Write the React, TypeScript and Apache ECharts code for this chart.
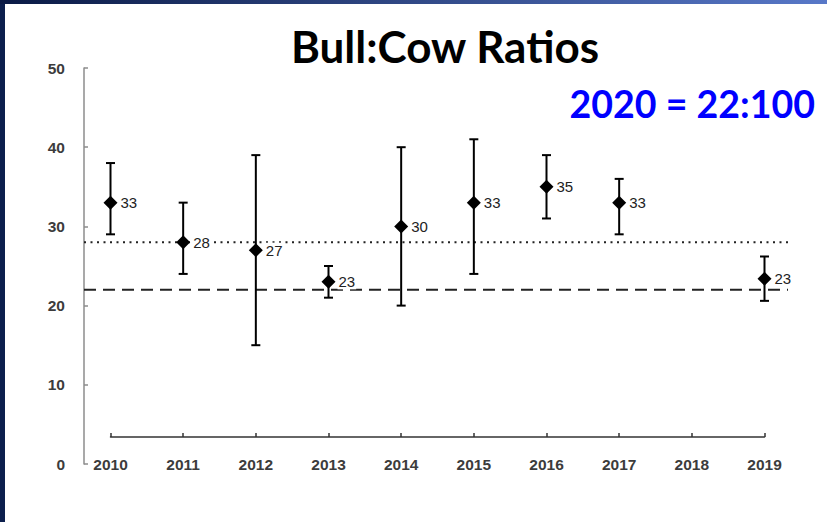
import React, { useEffect, useRef } from "react";
import * as echarts from "echarts";

const years = ["2010", "2011", "2012", "2013", "2014", "2015", "2016", "2017", "2018", "2019"];
const ratios: (number | null)[] = [33, 28, 27, 23, 30, 33, 35, 33, null, 23.4];
const lows: (number | null)[] = [29, 24, 15, 21, 20, 24, 31, 29, null, 20.6];
const highs: (number | null)[] = [38, 33, 39, 25, 40, 41, 39, 36, null, 26.2];
const dottedRef = 28;
const dashedRef = 22;
const yMin = 0;
const yMax = 50;
const yInterval = 10;
const titleText = "Bull:Cow Ratios";
const subtitleText = "2020 = 22:100";

export default function App() {
  const ref = useRef<HTMLDivElement>(null);
  useEffect(() => {
    if (!ref.current) return;
    const chart = echarts.init(ref.current, null, { renderer: "svg" });
    const labelFont = "Liberation Sans, Arial, sans-serif";
    const errData = years
      .map((_, i) => (ratios[i] == null ? null : [i, lows[i], highs[i]]))
      .filter((d) => d != null);
    const ptData = years
      .map((_, i) => (ratios[i] == null ? null : [i, ratios[i]]))
      .filter((d) => d != null);
    const option: any = {
      animation: false,
      backgroundColor: "#ffffff",
      grid: [
        { left: 110.5, right: 62.5, top: 68, bottom: 58 },
        { left: 84, right: 39, top: 68, bottom: 58 },
      ],
      xAxis: [
        {
          type: "category",
          gridIndex: 0,
          data: years,
          boundaryGap: false,
          offset: -27,
          axisLine: { lineStyle: { color: "#333", width: 1.5 } },
          axisTick: { inside: true, length: 4, lineStyle: { color: "#333", width: 1.5 } },
          axisLabel: {
            margin: 19,
            fontSize: 15.5,
            fontWeight: "bold",
            color: "#3c3c3c",
            fontFamily: labelFont,
            interval: 0,
          },
          splitLine: { show: false },
        },
        {
          type: "value",
          gridIndex: 1,
          min: 0,
          max: 1,
          show: false,
        },
      ],
      yAxis: [
        { type: "value", gridIndex: 0, min: yMin, max: yMax, interval: yInterval, show: false },
        {
          type: "value",
          gridIndex: 1,
          min: yMin,
          max: yMax,
          interval: yInterval,
          axisLine: { show: true, lineStyle: { color: "#8c8c8c", width: 1.5 } },
          axisTick: { show: true, inside: true, length: 4, lineStyle: { color: "#8c8c8c", width: 1.5 } },
          axisLabel: {
            margin: 19,
            fontSize: 15.5,
            fontWeight: "bold",
            color: "#3c3c3c",
            fontFamily: labelFont,
          },
          splitLine: { show: false },
        },
      ],
      graphic: [
        { type: "rect", shape: { x: 0, y: 0, width: 5, height: 522 }, style: { fill: "#0c1f4d" }, z: 10 },
        {
          type: "rect",
          shape: { x: 0, y: 0, width: 827, height: 4 },
          style: {
            fill: new echarts.graphic.LinearGradient(0, 0, 1, 0, [
              { offset: 0, color: "#0a1a45" },
              { offset: 1, color: "#5878c8" },
            ]),
          },
          z: 10,
        },
        {
          type: "text",
          x: 445,
          y: 46,
          style: {
            text: titleText,
            font: "bold 44px Lato, sans-serif",
            fill: "#000",
            textAlign: "center",
            textVerticalAlign: "middle",
          },
        },
        {
          type: "text",
          x: 815,
          y: 103,
          style: {
            text: subtitleText,
            font: "bold 37.5px Lato, sans-serif",
            fill: "#0000ff",
            textAlign: "right",
            textVerticalAlign: "middle",
          },
        },
      ],
      series: [
        {
          type: "line",
          xAxisIndex: 1,
          yAxisIndex: 1,
          data: [[0, dottedRef], [1, dottedRef]],
          symbol: "none",
          lineStyle: { color: "#222", width: 2, type: [2, 4.5] },
          z: 1,
          silent: true,
        },
        {
          type: "line",
          xAxisIndex: 1,
          yAxisIndex: 1,
          data: [[0, dashedRef], [1, dashedRef]],
          symbol: "none",
          lineStyle: { color: "#222", width: 2, type: [12, 7] },
          z: 1,
          silent: true,
        },
        {
          type: "custom",
          xAxisIndex: 0,
          yAxisIndex: 0,
          data: errData,
          encode: { x: 0, y: [1, 2] },
          z: 3,
          renderItem: (params: any, api: any) => {
            const lo = api.coord([api.value(0), api.value(1)]);
            const hi = api.coord([api.value(0), api.value(2)]);
            const w = 4.5;
            const st = { stroke: "#000", lineWidth: 2 };
            return {
              type: "group",
              children: [
                { type: "line", shape: { x1: lo[0], y1: lo[1], x2: hi[0], y2: hi[1] }, style: st },
                { type: "line", shape: { x1: hi[0] - w, y1: hi[1], x2: hi[0] + w, y2: hi[1] }, style: st },
                { type: "line", shape: { x1: lo[0] - w, y1: lo[1], x2: lo[0] + w, y2: lo[1] }, style: st },
              ],
            };
          },
        },
        {
          type: "scatter",
          xAxisIndex: 0,
          yAxisIndex: 0,
          data: ptData,
          symbol: "diamond",
          symbolSize: [14, 14],
          itemStyle: { color: "#000", opacity: 1 },
          z: 4,
          label: {
            show: true,
            position: "right",
            distance: 2,
            fontSize: 15,
            color: "#222",
            fontFamily: labelFont,
            backgroundColor: "#ffffff",
            padding: [0, 1],
            formatter: (p: any) => String(Math.round(p.value[1])),
          },
        },
      ],
    };
    chart.setOption(option);
    return () => chart.dispose();
  }, []);
  return (
    <div
      ref={ref}
      style={{ position: "absolute", left: 0, top: 0, width: 827, height: 522 }}
    />
  );
}
